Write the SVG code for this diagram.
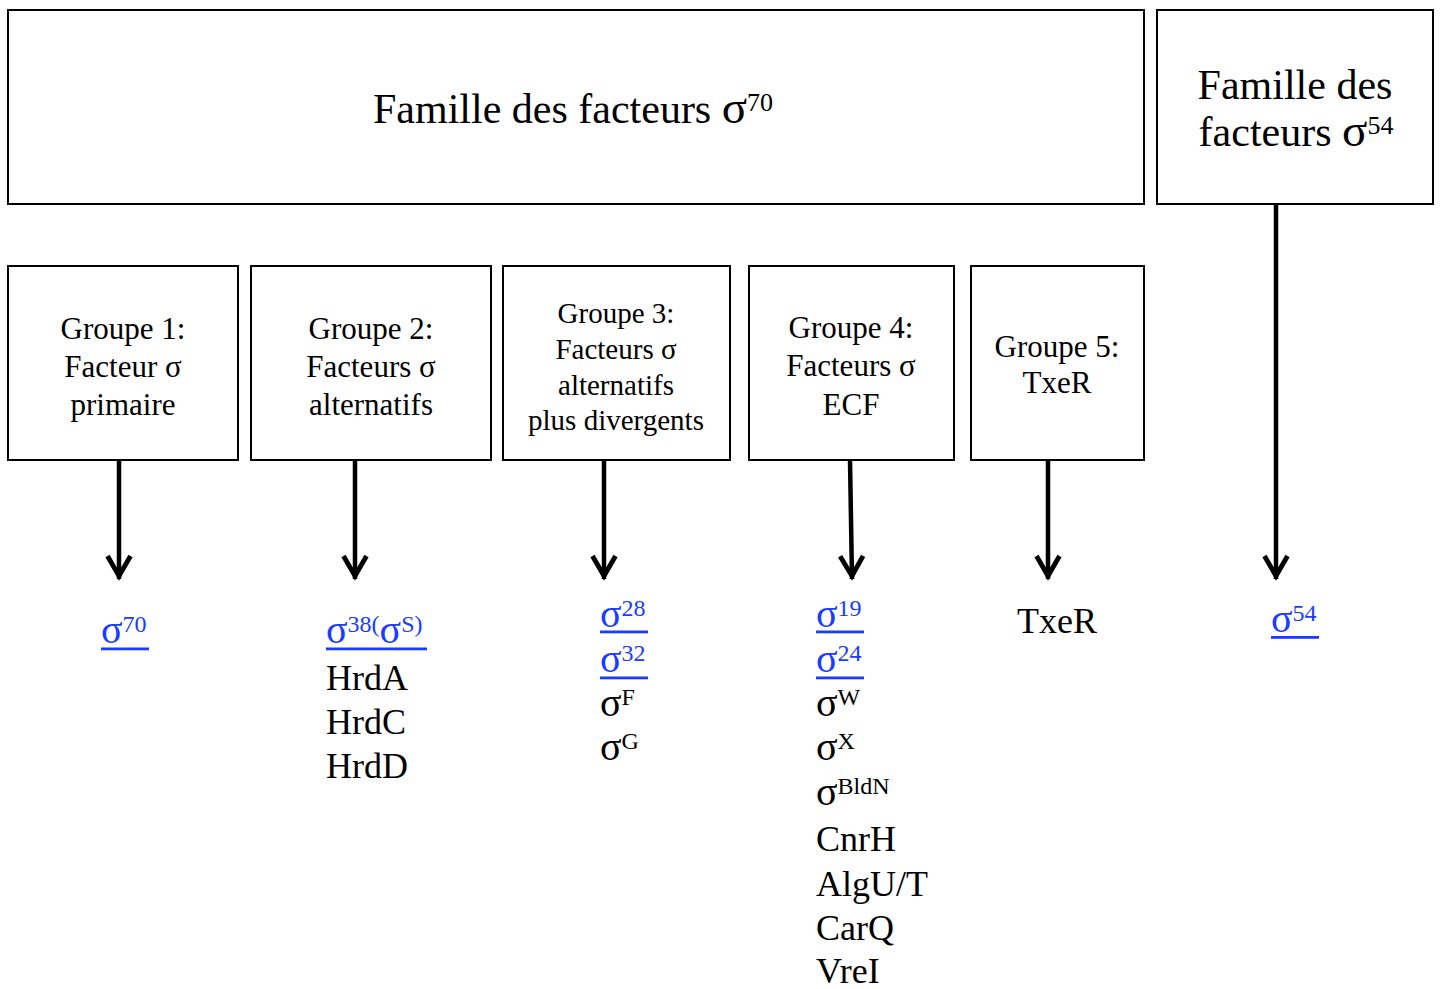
<svg xmlns="http://www.w3.org/2000/svg" width="1441" height="989" viewBox="0 0 1441 989">
  <style>
    .box { fill: #ffffff; stroke: #000000; stroke-width: 2; }
    .serif { font-family: "Liberation Serif", "Times New Roman", serif; fill: #000000; }
    .fam { font-size: 42px; }
    .grp { font-size: 31px; text-anchor: middle; }
    .grp3 { font-size: 29px; text-anchor: middle; }
    .lbl { font-size: 36px; }
    .sup { font-size: 24px; }
    .link { fill: #1a3cff; }
    .ul { fill: #1a3cff; }
    .conn { stroke: #000000; stroke-width: 4.5; fill: none; marker-end: url(#chevron); }
  </style>
  <defs>
    <marker id="chevron" markerUnits="userSpaceOnUse" viewBox="-30 -20 40 40" markerWidth="40" markerHeight="40" refX="0" refY="0" orient="auto" overflow="visible">
      <path d="M -23 -11.5 L -3 0 L -23 11.5" fill="none" stroke="#000000" stroke-width="4.8" stroke-linejoin="miter"/>
    </marker>
  </defs>

  <rect width="1441" height="989" fill="#ffffff"/>

  <!-- connectors -->
  <g id="connectors">
    <path class="conn" d="M 119 460 L 119 579"/>
    <path class="conn" d="M 355 460 L 355 579"/>
    <path class="conn" d="M 604 460 L 604 579"/>
    <path class="conn" d="M 850 460 L 852 579"/>
    <path class="conn" d="M 1048 460 L 1048 579"/>
    <path class="conn" d="M 1276 204 L 1276 579"/>
  </g>

  <!-- families -->
  <g id="famille-sigma70">
    <rect class="box" x="8" y="10" width="1136" height="194"/>
    <text class="serif fam" x="373" y="123">Famille des facteurs <tspan font-size="47">σ</tspan><tspan font-size="26" dy="-12">70</tspan></text>
  </g>
  <g id="famille-sigma54">
    <rect class="box" x="1157" y="10" width="276" height="194"/>
    <text class="serif fam" x="1295" y="99" text-anchor="middle">Famille des</text>
    <text class="serif fam" x="1296" y="146" text-anchor="middle">facteurs <tspan font-size="47">σ</tspan><tspan font-size="26" dy="-12">54</tspan></text>
  </g>

  <!-- groups -->
  <g id="groupe-1">
    <rect class="box" x="8" y="266" width="230" height="194"/>
    <text class="serif grp" x="123" y="339">Groupe 1:</text>
    <text class="serif grp" x="123" y="377">Facteur σ</text>
    <text class="serif grp" x="123" y="415">primaire</text>
  </g>
  <g id="groupe-2">
    <rect class="box" x="251" y="266" width="240" height="194"/>
    <text class="serif grp" x="371" y="339">Groupe 2:</text>
    <text class="serif grp" x="371" y="377">Facteurs σ</text>
    <text class="serif grp" x="371" y="415">alternatifs</text>
  </g>
  <g id="groupe-3">
    <rect class="box" x="503" y="266" width="227" height="194"/>
    <text class="serif grp3" x="616" y="323">Groupe 3:</text>
    <text class="serif grp3" x="616" y="359">Facteurs σ</text>
    <text class="serif grp3" x="616" y="395">alternatifs</text>
    <text class="serif grp3" x="616" y="430">plus divergents</text>
  </g>
  <g id="groupe-4">
    <rect class="box" x="749" y="266" width="205" height="194"/>
    <text class="serif grp" x="851" y="338">Groupe 4:</text>
    <text class="serif grp" x="851" y="376">Facteurs σ</text>
    <text class="serif grp" x="851" y="415">ECF</text>
  </g>
  <g id="groupe-5">
    <rect class="box" x="971" y="266" width="173" height="194"/>
    <text class="serif grp" x="1057" y="357">Groupe 5:</text>
    <text class="serif grp" x="1057" y="393">TxeR</text>
  </g>

  <!-- members of each group -->
  <g id="membres-groupe-1">
    <text class="serif lbl link" x="101" y="643"><tspan font-size="40">σ</tspan><tspan class="sup" dy="-11">70</tspan></text>
    <rect class="ul" x="101" y="647.5" width="48" height="2.8"/>
  </g>
  <g id="membres-groupe-2">
    <text class="serif lbl link" x="326" y="643"><tspan font-size="40">σ</tspan><tspan class="sup" dy="-11">38(</tspan><tspan font-size="40" dy="11">σ</tspan><tspan class="sup" dy="-11">S)</tspan></text>
    <rect class="ul" x="326" y="647.5" width="101" height="2.8"/>
    <text class="serif lbl" x="326" y="690">HrdA</text>
    <text class="serif lbl" x="326" y="734">HrdC</text>
    <text class="serif lbl" x="326" y="778">HrdD</text>
  </g>
  <g id="membres-groupe-3">
    <text class="serif lbl link" x="600" y="627"><tspan font-size="40">σ</tspan><tspan class="sup" dy="-11">28</tspan></text>
    <rect class="ul" x="600" y="630.5" width="48" height="2.8"/>
    <text class="serif lbl link" x="600" y="672"><tspan font-size="40">σ</tspan><tspan class="sup" dy="-11">32</tspan></text>
    <rect class="ul" x="600" y="676.5" width="48" height="2.8"/>
    <text class="serif lbl" x="600" y="716"><tspan font-size="40">σ</tspan><tspan class="sup" dy="-11">F</tspan></text>
    <text class="serif lbl" x="600" y="760"><tspan font-size="40">σ</tspan><tspan class="sup" dy="-11">G</tspan></text>
  </g>
  <g id="membres-groupe-4">
    <text class="serif lbl link" x="816" y="627"><tspan font-size="40">σ</tspan><tspan class="sup" dy="-11">19</tspan></text>
    <rect class="ul" x="816" y="630.5" width="48" height="2.8"/>
    <text class="serif lbl link" x="816" y="672"><tspan font-size="40">σ</tspan><tspan class="sup" dy="-11">24</tspan></text>
    <rect class="ul" x="816" y="676.5" width="48" height="2.8"/>
    <text class="serif lbl" x="816" y="716"><tspan font-size="40">σ</tspan><tspan class="sup" dy="-11">W</tspan></text>
    <text class="serif lbl" x="816" y="760"><tspan font-size="40">σ</tspan><tspan class="sup" dy="-11">X</tspan></text>
    <text class="serif lbl" x="816" y="805"><tspan font-size="40">σ</tspan><tspan class="sup" dy="-11">BldN</tspan></text>
    <text class="serif lbl" x="816" y="851">CnrH</text>
    <text class="serif lbl" x="816" y="896">AlgU/T</text>
    <text class="serif lbl" x="816" y="940">CarQ</text>
    <text class="serif lbl" x="816" y="983">VreI</text>
  </g>
  <g id="membres-groupe-5">
    <text class="serif lbl" x="1017" y="633">TxeR</text>
  </g>
  <g id="membres-sigma54">
    <text class="serif lbl link" x="1271" y="632"><tspan font-size="40">σ</tspan><tspan class="sup" dy="-11">54</tspan></text>
    <rect class="ul" x="1271" y="636" width="48" height="2.8"/>
  </g>
</svg>
